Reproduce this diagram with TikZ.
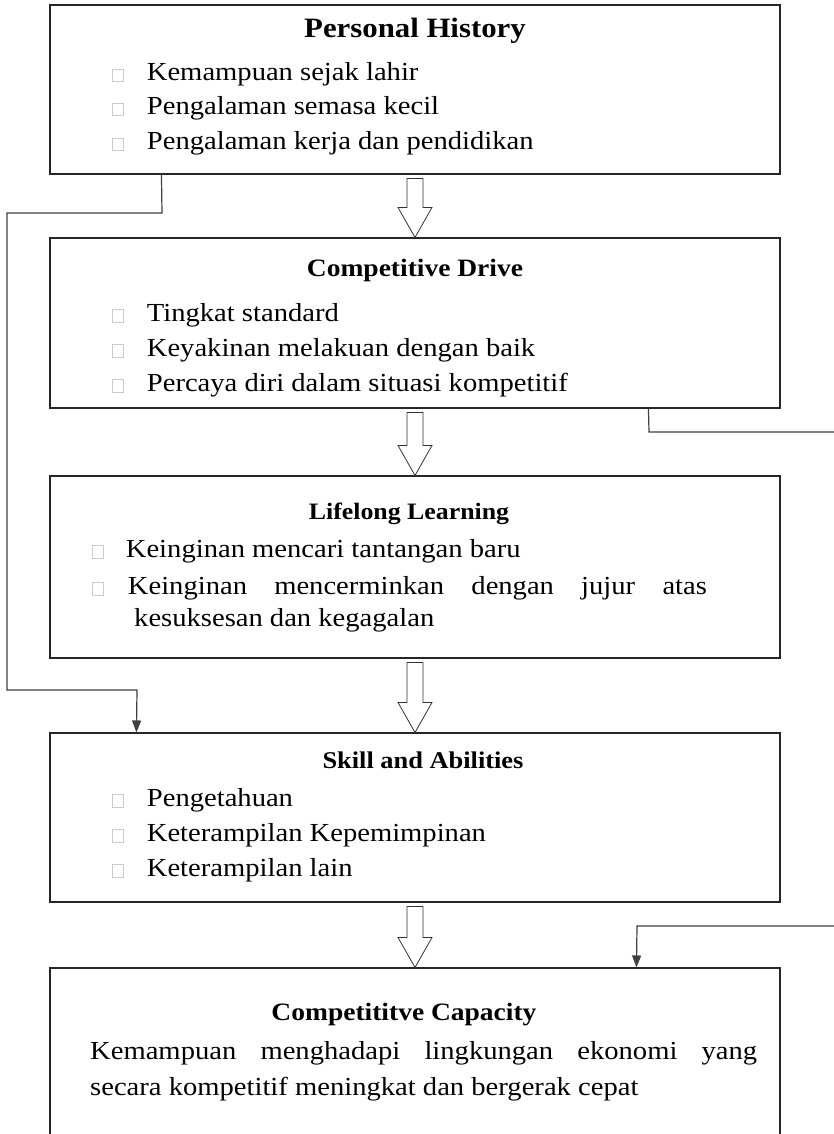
\documentclass[tikz,border=0pt]{standalone}
\usepackage{fontspec}
\setmainfont[FakeStretch=1.1]{Liberation Serif}
\usetikzlibrary{calc,arrows.meta}
\newcommand{\bx}{{\color{gray!40}\setlength{\fboxsep}{0pt}\setlength{\fboxrule}{0.6pt}\raisebox{-0.5pt}{\fbox{\rule{0pt}{12pt}\hspace{10.5pt}}}}}
\newcommand{\bodyf}{\fontsize{26}{30}\selectfont}
\tikzset{
  box/.style={draw=black!85, line width=1.1pt, inner sep=0pt, minimum width=730pt},
  ttl/.style={inner sep=0pt, anchor=base},
  itm/.style={font=\bodyf, inner sep=0pt, anchor=base west},
  hollow/.style={draw=black!80, line width=0.8pt, fill=white, line join=miter},
  conn/.style={draw=black!75, line width=1.2pt},
  tip/.style={-{Triangle[length=12pt,width=9pt]}}
}
\newcommand{\ttlf}[1]{\bfseries\fontsize{#1}{#1}\selectfont}
\newcommand{\hollowarrow}[2]{%
  \draw[hollow] ($(#1.south)+(-8,4)$) -- ($(#2.north)+(-8,-30)$) -- ($(#2.north)+(-17,-30)$) -- (#2.north)
    -- ($(#2.north)+(17,-30)$) -- ($(#2.north)+(8,-30)$) -- ($(#1.south)+(8,4)$) -- cycle;}
\begin{document}
\begin{tikzpicture}[x=1pt,y=-1pt]
\clip (0,0) rectangle (834,1134);
\fill[white] (0,0) rectangle (834,1134);
% boxes
\node[box, minimum height=169pt] (b1) at (415,89.5) {};
\node[box, minimum height=170pt] (b2) at (415,323) {};
\node[box, minimum height=182pt] (b3) at (415,567) {};
\node[box, minimum height=169pt] (b4) at (415,817.5) {};
\node[box, minimum height=200pt] (b5) at (415,1068) {};
% box 1
\node[ttl, font=\ttlf{28}] (t1) at (415,38) {Personal History};
\node[itm] (i11) at (112,81) {\bx\hspace{23pt}Kemampuan sejak lahir};
\node[itm] (i12) at (112,115) {\bx\hspace{23pt}Pengalaman semasa kecil};
\node[itm] (i13) at (112,150) {\bx\hspace{23pt}Pengalaman kerja dan pendidikan};
% box 2
\node[ttl, font=\ttlf{25}] (t2) at (415,276) {Competitive Drive};
\node[itm] (i21) at (112,321) {\bx\hspace{23pt}Tingkat standard};
\node[itm] (i22) at (112,356) {\bx\hspace{23pt}Keyakinan melakuan dengan baik};
\node[itm] (i23) at (112,391) {\bx\hspace{23pt}Percaya diri dalam situasi kompetitif};
% box 3
\node[ttl, font=\ttlf{23.5}] (t3) at (409,519) {Lifelong Learning};
\node[itm] (i31) at (92,557) {\bx\hspace{22pt}Keinginan mencari tantangan baru};
\node[itm] (i32) at (92,594) {\bx\hspace{24pt}\makebox[579pt][s]{Keinginan mencerminkan dengan jujur atas}};
\node[itm] (i33) at (134,626) {kesuksesan dan kegagalan};
% box 4
\node[ttl, font=\ttlf{24}] (t4) at (423,768) {Skill and Abilities};
\node[itm] (i41) at (112,806) {\bx\hspace{23pt}Pengetahuan};
\node[itm] (i42) at (112,841) {\bx\hspace{23pt}Keterampilan Kepemimpinan};
\node[itm] (i43) at (112,876) {\bx\hspace{23pt}Keterampilan lain};
% box 5
\node[ttl, font=\ttlf{25}] (t5) at (404,1020) {Competititve Capacity};
\node[itm] (i51) at (90,1059) {\makebox[667pt][s]{Kemampuan menghadapi lingkungan ekonomi yang}};
\node[itm] (i52) at (90,1095) {secara kompetitif meningkat dan bergerak cepat};
% hollow arrows
\hollowarrow{b1}{b2}
\hollowarrow{b2}{b3}
\hollowarrow{b3}{b4}
\hollowarrow{b4}{b5}
% left connector
\coordinate (l1) at (162,213);
\coordinate (l2) at (7,213);
\coordinate (l3) at (7,690);
\coordinate (l4) at (137,690);
\draw[conn,tip] ($(b1.south west)+(112,0)$) -- (l1) -- (l2) -- (l3) -- (l4) -- ($(b4.north west)+(87,0)$);
% right connectors
\coordinate (r1) at (649,432);
\coordinate (r2) at (840,432);
\draw[conn] ($(b2.south west)+(599,0)$) -- (r1) -- (r2);
\coordinate (r3) at (840,926);
\coordinate (r4) at (637,926);
\draw[conn,tip] (r3) -- (r4) -- ($(b5.north west)+(587,0)$);
\end{tikzpicture}
\end{document}
